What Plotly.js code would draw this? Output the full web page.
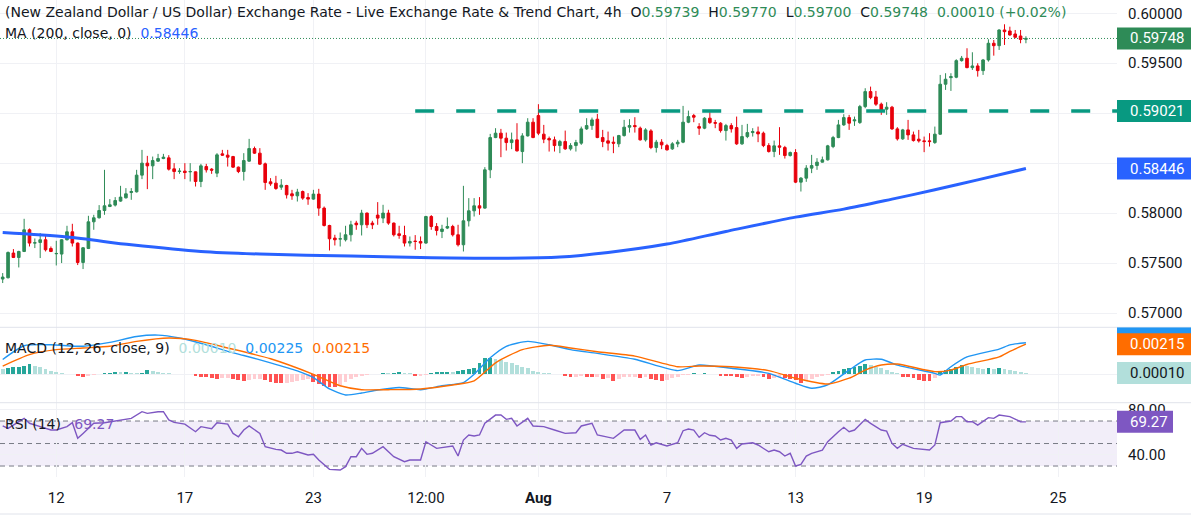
<!DOCTYPE html>
<html>
<head>
<meta charset="utf-8">
<script src="https://cdn.plot.ly/plotly-3.0.1.min.js"></script>
<style>
html,body{margin:0;padding:0;background:#fff;}
#chart{width:1191px;height:520px;}
</style>
</head>
<body>
<div id="chart"></div>
<script>
// ---------------- DATA ----------------
const title = "(New Zealand Dollar / US Dollar) Exchange Rate - Live Exchange Rate & Trend Chart";
const interval = "4h";

const open = [0.57340,0.57353,0.57600,0.57556,0.57616,0.57833,0.57700,0.57706,0.57733,0.57646,0.57593,0.57590,0.57733,0.57813,0.57700,0.57506,0.57646,0.57913,0.57953,0.58026,0.58066,0.58080,0.58120,0.58153,0.58206,0.58213,0.58380,0.58500,0.58473,0.58520,0.58546,0.58553,0.58443,0.58416,0.58420,0.58413,0.58413,0.58316,0.58466,0.58440,0.58400,0.58593,0.58580,0.58566,0.58460,0.58416,0.58520,0.58646,0.58600,0.58493,0.58313,0.58300,0.58260,0.58276,0.58193,0.58173,0.58216,0.58156,0.58140,0.58190,0.58050,0.57876,0.57750,0.57740,0.57733,0.57783,0.57900,0.57883,0.58000,0.57900,0.57980,0.57950,0.58000,0.57900,0.57793,0.57776,0.57700,0.57720,0.57716,0.57700,0.57966,0.57866,0.57816,0.57850,0.57866,0.57783,0.57683,0.57923,0.58023,0.58073,0.58050,0.58433,0.58756,0.58800,0.58750,0.58706,0.58733,0.58616,0.58773,0.58910,0.58976,0.58790,0.58746,0.58733,0.58676,0.58716,0.58643,0.58676,0.58700,0.58843,0.58876,0.58940,0.58756,0.58723,0.58710,0.58693,0.58776,0.58860,0.58876,0.58850,0.58733,0.58823,0.58656,0.58710,0.58676,0.58643,0.58693,0.58710,0.58910,0.58976,0.58866,0.58850,0.58950,0.58906,0.58900,0.58826,0.58876,0.58856,0.58693,0.58766,0.58806,0.58813,0.58800,0.58676,0.58616,0.58673,0.58656,0.58576,0.58606,0.58310,0.58350,0.58450,0.58476,0.58510,0.58533,0.58666,0.58756,0.58883,0.58956,0.58923,0.58906,0.59066,0.59216,0.59163,0.59090,0.59040,0.59060,0.58843,0.58743,0.58833,0.58783,0.58740,0.58723,0.58723,0.58706,0.58790,0.59290,0.59356,0.59360,0.59526,0.59550,0.59456,0.59473,0.59426,0.59533,0.59700,0.59676,0.59833,0.59823,0.59793,0.59773,0.59739];
const high = [0.57400,0.57616,0.57640,0.57623,0.57943,0.57846,0.57746,0.57800,0.57773,0.57666,0.57723,0.57740,0.57873,0.57893,0.57706,0.57660,0.57973,0.57983,0.58080,0.58433,0.58140,0.58160,0.58273,0.58250,0.58250,0.58433,0.58633,0.58573,0.58566,0.58593,0.58593,0.58580,0.58500,0.58450,0.58500,0.58500,0.58416,0.58493,0.58493,0.58450,0.58600,0.58633,0.58633,0.58573,0.58466,0.58600,0.58743,0.58666,0.58650,0.58506,0.58350,0.58373,0.58340,0.58283,0.58233,0.58243,0.58226,0.58200,0.58233,0.58243,0.58066,0.57883,0.57783,0.57806,0.57873,0.57923,0.57923,0.58033,0.58006,0.57923,0.58110,0.58083,0.58033,0.57906,0.57873,0.57873,0.57766,0.57780,0.57766,0.57973,0.57980,0.57900,0.57883,0.57956,0.57883,0.57883,0.58273,0.58150,0.58150,0.58160,0.58460,0.58793,0.58850,0.58843,0.58806,0.58806,0.58900,0.58800,0.58950,0.58950,0.59090,0.58883,0.58766,0.58766,0.58733,0.58826,0.58700,0.58733,0.58866,0.58950,0.58956,0.58993,0.58833,0.58816,0.58766,0.58783,0.58933,0.58940,0.58960,0.58866,0.58850,0.58840,0.58733,0.58740,0.58693,0.58710,0.58733,0.59073,0.59026,0.58993,0.58900,0.58960,0.59010,0.58933,0.58910,0.58893,0.58900,0.58966,0.58883,0.58893,0.58850,0.58866,0.58816,0.58700,0.58726,0.58860,0.58673,0.58616,0.58640,0.58360,0.58480,0.58583,0.58550,0.58566,0.58683,0.58773,0.58933,0.58990,0.58983,0.58966,0.59083,0.59250,0.59266,0.59223,0.59106,0.59110,0.59073,0.58860,0.58843,0.58933,0.58816,0.58833,0.58766,0.58800,0.58866,0.59383,0.59400,0.59400,0.59540,0.59573,0.59650,0.59610,0.59500,0.59543,0.59740,0.59733,0.59840,0.59890,0.59866,0.59833,0.59833,0.59770];
const low = [0.57300,0.57346,0.57550,0.57456,0.57610,0.57666,0.57650,0.57550,0.57616,0.57610,0.57476,0.57500,0.57726,0.57666,0.57480,0.57440,0.57640,0.57833,0.57946,0.57983,0.58060,0.58066,0.58113,0.58146,0.58133,0.58206,0.58340,0.58240,0.58340,0.58513,0.58540,0.58426,0.58340,0.58393,0.58340,0.58316,0.58266,0.58260,0.58406,0.58393,0.58360,0.58573,0.58466,0.58453,0.58400,0.58326,0.58513,0.58593,0.58483,0.58233,0.58273,0.58233,0.58233,0.58146,0.58133,0.58116,0.58133,0.58083,0.58133,0.57973,0.57866,0.57626,0.57676,0.57666,0.57716,0.57716,0.57833,0.57776,0.57850,0.57840,0.57883,0.57900,0.57883,0.57766,0.57743,0.57666,0.57666,0.57633,0.57640,0.57693,0.57833,0.57776,0.57750,0.57840,0.57766,0.57666,0.57616,0.57866,0.57966,0.57983,0.58043,0.58350,0.58750,0.58560,0.58626,0.58640,0.58616,0.58500,0.58766,0.58750,0.58780,0.58700,0.58616,0.58616,0.58600,0.58633,0.58626,0.58616,0.58683,0.58833,0.58833,0.58750,0.58660,0.58626,0.58600,0.58660,0.58766,0.58806,0.58806,0.58726,0.58716,0.58640,0.58606,0.58640,0.58626,0.58633,0.58660,0.58700,0.58900,0.58910,0.58783,0.58840,0.58893,0.58850,0.58806,0.58726,0.58806,0.58683,0.58683,0.58750,0.58766,0.58710,0.58660,0.58606,0.58560,0.58583,0.58546,0.58566,0.58300,0.58216,0.58313,0.58400,0.58433,0.58506,0.58526,0.58650,0.58750,0.58873,0.58833,0.58873,0.58893,0.59050,0.59140,0.59073,0.58983,0.58983,0.58833,0.58726,0.58733,0.58733,0.58716,0.58706,0.58610,0.58666,0.58693,0.58783,0.59233,0.59223,0.59350,0.59516,0.59450,0.59433,0.59366,0.59383,0.59516,0.59576,0.59633,0.59683,0.59776,0.59750,0.59700,0.59700];
const close = [0.57360,0.57606,0.57556,0.57616,0.57833,0.57700,0.57703,0.57733,0.57633,0.57616,0.57596,0.57733,0.57813,0.57700,0.57506,0.57653,0.57913,0.57953,0.58026,0.58073,0.58083,0.58126,0.58160,0.58193,0.58216,0.58380,0.58500,0.58473,0.58526,0.58546,0.58560,0.58440,0.58416,0.58420,0.58406,0.58416,0.58316,0.58473,0.58433,0.58430,0.58583,0.58580,0.58560,0.58460,0.58416,0.58526,0.58646,0.58600,0.58490,0.58306,0.58293,0.58246,0.58280,0.58183,0.58173,0.58210,0.58150,0.58140,0.58190,0.58050,0.57876,0.57743,0.57733,0.57743,0.57783,0.57883,0.57883,0.58000,0.57883,0.57883,0.57950,0.58000,0.57900,0.57783,0.57776,0.57700,0.57716,0.57716,0.57700,0.57966,0.57866,0.57826,0.57840,0.57866,0.57783,0.57683,0.57923,0.58023,0.58073,0.58050,0.58433,0.58756,0.58800,0.58750,0.58706,0.58733,0.58623,0.58773,0.58910,0.58756,0.58800,0.58740,0.58733,0.58676,0.58716,0.58643,0.58676,0.58706,0.58843,0.58876,0.58933,0.58756,0.58716,0.58700,0.58700,0.58776,0.58860,0.58876,0.58866,0.58733,0.58833,0.58656,0.58710,0.58683,0.58633,0.58693,0.58710,0.58910,0.58966,0.58960,0.58850,0.58950,0.58906,0.58900,0.58826,0.58876,0.58843,0.58693,0.58766,0.58806,0.58816,0.58793,0.58676,0.58616,0.58673,0.58660,0.58576,0.58606,0.58310,0.58350,0.58450,0.58476,0.58510,0.58533,0.58673,0.58756,0.58883,0.58956,0.58900,0.58933,0.59066,0.59216,0.59156,0.59090,0.59033,0.59060,0.58843,0.58743,0.58833,0.58783,0.58726,0.58723,0.58716,0.58716,0.58790,0.59290,0.59340,0.59366,0.59526,0.59550,0.59456,0.59473,0.59426,0.59533,0.59700,0.59676,0.59833,0.59816,0.59783,0.59760,0.59738,0.59748];

// 200-period moving average, read at sample bars
const maBars = [0,12,24,37,48,65,78,91,104,113,124,135,148,157,166,174,182,191];
const maVals = [0.57805,0.57760,0.57683,0.57616,0.57590,0.57570,0.57555,0.57548,0.57560,0.57606,0.57690,0.57816,0.57960,0.58040,0.58140,0.58233,0.58333,0.58446];

// MACD line and signal line, read at sample bars
const macdBars = [0,4,9,15,20,25,29,33,38,42,45,50,55,58,61,64,67,70,74,78,82,86,88,91,94,98,102,106,111,118,126,130,136,143,148,151,154,158,161,164,167,174,175,177,180,186,188,191];
const macdVals = [0.00106,0.00204,0.00211,0.00200,0.00228,0.00270,0.00280,0.00259,0.00211,0.00164,0.00134,0.00082,0.00024,-0.00024,-0.00105,-0.00148,-0.00134,-0.00112,-0.00094,-0.00110,-0.00082,-0.00059,0.00000,0.00118,0.00200,0.00235,0.00211,0.00176,0.00149,0.00107,0.00026,0.00066,0.00043,0.00007,-0.00064,-0.00100,-0.00076,0.00030,0.00102,0.00107,0.00066,0.00007,-0.00005,0.00054,0.00124,0.00180,0.00210,0.00225];
const signalBars = [0,5,10,15,20,25,31,36,42,50,58,63,67,72,78,84,88,92,97,102,106,111,118,126,130,136,143,148,154,158,161,164,167,174,177,180,186,188,191];
const signalVals = [0.00059,0.00141,0.00176,0.00188,0.00200,0.00235,0.00259,0.00242,0.00188,0.00111,0.00000,-0.00082,-0.00110,-0.00110,-0.00105,-0.00077,-0.00047,0.00082,0.00176,0.00207,0.00188,0.00161,0.00130,0.00054,0.00059,0.00054,0.00026,-0.00028,-0.00069,-0.00028,0.00030,0.00066,0.00073,0.00019,0.00030,0.00070,0.00124,0.00164,0.00215];
// MACD histogram, one value per bar
const histVals = [0.00036,0.00043,0.00050,0.00055,0.00059,0.00071,0.00059,0.00050,0.00036,0.00026,0.00014,0.00007,0.00002,0.00002,-0.00010,-0.00021,-0.00012,-0.00005,0.00001,0.00007,0.00012,0.00014,0.00014,0.00017,0.00012,0.00007,0.00012,0.00031,0.00026,0.00019,0.00012,0.00007,0.00005,0.00002,0.00001,0.00001,-0.00010,-0.00017,-0.00021,-0.00028,-0.00033,-0.00028,-0.00026,-0.00036,-0.00040,-0.00045,-0.00040,-0.00036,-0.00031,-0.00040,-0.00052,-0.00059,-0.00064,-0.00059,-0.00055,-0.00047,-0.00040,-0.00036,-0.00052,-0.00069,-0.00083,-0.00088,-0.00090,-0.00076,-0.00052,-0.00036,-0.00021,-0.00012,-0.00005,0.00002,0.00005,0.00007,0.00007,0.00012,0.00014,0.00012,0.00007,-0.00010,-0.00010,-0.00005,0.00012,0.00014,0.00017,0.00019,0.00014,0.00026,0.00031,0.00036,0.00043,0.00078,0.00114,0.00119,0.00107,0.00102,0.00090,0.00078,0.00066,0.00055,0.00043,0.00026,0.00019,0.00012,0.00007,0.00002,0.00002,-0.00012,-0.00017,-0.00017,-0.00012,-0.00017,-0.00021,-0.00017,-0.00036,-0.00028,-0.00045,-0.00036,-0.00021,-0.00017,-0.00017,-0.00028,-0.00021,-0.00036,-0.00040,-0.00045,-0.00040,-0.00028,-0.00017,-0.00005,-0.00002,0.00007,0.00002,0.00007,0.00002,0.00001,-0.00010,-0.00012,-0.00013,-0.00021,-0.00028,-0.00017,-0.00012,-0.00010,-0.00021,-0.00036,-0.00028,-0.00021,-0.00028,-0.00036,-0.00040,-0.00059,-0.00045,-0.00036,-0.00021,-0.00012,-0.00005,0.00014,0.00024,0.00038,0.00043,0.00050,0.00059,0.00071,0.00066,0.00055,0.00043,0.00031,0.00019,0.00012,-0.00017,-0.00021,-0.00028,-0.00040,-0.00045,-0.00047,-0.00028,0.00014,0.00031,0.00038,0.00055,0.00066,0.00059,0.00050,0.00043,0.00036,0.00047,0.00038,0.00047,0.00038,0.00031,0.00024,0.00014,0.00010];

// RSI(14), read at sample bars
const rsiBars = [0,1,4,5,7,9,10,12,13,14,15,17,19,21,23,24,26,27,29,30,31,32,34,36,37,39,40,42,43,44,45,46,48,49,51,52,53,54,55,57,58,59,61,63,64,65,66,67,68,69,71,73,75,76,78,79,81,83,84,85,86,87,88,89,90,92,93,94,95,96,98,99,101,103,105,107,108,110,111,114,116,118,119,120,121,122,124,126,127,128,129,130,131,132,133,134,135,136,137,138,140,141,143,144,145,146,147,148,149,150,151,153,154,156,157,158,159,161,162,164,165,166,167,168,170,173,174,175,177,178,179,180,181,182,184,185,186,188,189,190,191];
const rsiVals = [65.6,63.5,72.4,68,65,62,62,65,68.5,54.6,59,68,68.5,70,71.5,72.4,78.3,76.8,78.3,78.3,71,68.8,67.3,60.5,65,63.2,68.5,67.3,59,56,62,65.6,59,47.2,44.8,44.2,41.3,41.3,42.7,39.8,40.4,35.3,27,26.4,29.4,38.3,38.3,45.7,40.4,41.3,47.2,38.3,33.9,35.3,35.3,51.6,45.7,47.2,47.8,38.9,53.1,57.6,56.7,57.6,68,75.3,75.3,71.5,72.4,65.6,72.4,65.6,65,62,59,59.6,65.6,68,57.6,54.6,62,62,53.7,57.6,48.7,50.7,47.8,50.7,61.4,62.9,62,55.5,59.6,57.3,56.7,53.1,54.6,53.1,45.7,49.6,50.7,48.7,42.7,44.2,42.7,38.9,41.3,30,31.5,38.9,41.3,44.2,51.6,60.5,64.4,60.5,62,71.5,67.9,62,61,50.1,45.7,49.3,45.7,44.2,48.7,68.5,70,73.9,73.9,69.4,69.4,66.4,73,72.4,75.3,73.9,71.5,69.4,69.27];

const resistanceLevel = 0.59021;
const resistanceStartBar = 77;
const rsiLevels = [70, 50, 30];

const xTickBars = [10,34,58,79,100,124,148,172,197];
const xTickText = ["12","17","23","12:00","<b>Aug</b>","7","13","19","25"];
const priceTicks = [0.570,0.575,0.580,0.585,0.590,0.595,0.600];
const priceTickShown = [true,true,true,false,false,true,true];

// ---------------- STYLE / LAYOUT ----------------
const W = 1191, H = 520;
const plotRightPx = 1117;
const mainTop = 0, mainBot = 327.3, macdBot = 402.7, rsiBot = 476.7;
const xRange = [-0.504, 208.0];
const mainRange = [0.56857, 0.60133];
const macdRange = [-0.00203, 0.003357];
const rsiRange = [20.5, 86.3];

const UP = "#2e8b57", DOWN = "#e8000b";
const TXT = "#131722";
const GRID = "#f0f1f5";
const FONT = "Roboto, 'Noto Sans', sans-serif";
const LEGEND_FONT = "'DejaVu Sans', 'Noto Sans', sans-serif";

const bars = open.map((_, i) => i);
const last = close.length - 1;
const fmt5 = v => v.toFixed(5);

const histColors = histVals.map((h, i) => {
  const p = i > 0 ? histVals[i - 1] : h;
  if (h >= 0) return h > p ? "#26a69a" : "#b2dfdb";
  return h < p ? "#ff5252" : "#ffcdd2";
});

const traces = [
  {
    type: "candlestick", x: bars, open: open, high: high, low: low, close: close,
    xaxis: "x", yaxis: "y",
    increasing: {line: {color: UP, width: 1}, fillcolor: UP},
    decreasing: {line: {color: DOWN, width: 1}, fillcolor: DOWN},
    whiskerwidth: 0, hoverinfo: "skip", showlegend: false
  },
  {
    type: "scatter", mode: "lines", x: maBars, y: maVals, xaxis: "x", yaxis: "y",
    line: {color: "#2962ff", width: 3, shape: "spline", smoothing: 0.8}, hoverinfo: "skip", showlegend: false
  },
  {
    type: "scatter", mode: "lines", x: [resistanceStartBar, xRange[1]], y: [resistanceLevel, resistanceLevel],
    xaxis: "x", yaxis: "y", line: {color: "#089981", width: 3.5, dash: "19px,22px"}, hoverinfo: "skip", showlegend: false
  },
  {
    type: "bar", x: bars, y: histVals, xaxis: "x", yaxis: "y2", width: 0.72,
    marker: {color: histColors, line: {width: 0}}, hoverinfo: "skip", showlegend: false
  },
  {
    type: "scatter", mode: "lines", x: macdBars, y: macdVals, xaxis: "x", yaxis: "y2",
    line: {color: "#2196f3", width: 1.4, shape: "spline", smoothing: 0.6}, hoverinfo: "skip", showlegend: false
  },
  {
    type: "scatter", mode: "lines", x: signalBars, y: signalVals, xaxis: "x", yaxis: "y2",
    line: {color: "#ff6d00", width: 1.4, shape: "spline", smoothing: 0.6}, hoverinfo: "skip", showlegend: false
  },
  {
    type: "scatter", mode: "lines", x: rsiBars, y: rsiVals, xaxis: "x", yaxis: "y3",
    line: {color: "#7e57c2", width: 1.4}, hoverinfo: "skip", showlegend: false
  }
];

const xd = plotRightPx / W;
const dom = (topPx, botPx) => [(H - botPx) / H, (H - topPx) / H];

const shapes = [];
const annotations = [];

// RSI band and level lines
shapes.push({type: "rect", xref: "paper", x0: 0, x1: xd, yref: "y3", y0: rsiLevels[2], y1: rsiLevels[0],
  fillcolor: "rgba(126,87,194,0.1)", line: {width: 0}, layer: "below"});
rsiLevels.forEach(l => shapes.push({type: "line", xref: "paper", x0: 0, x1: xd, yref: "y3", y0: l, y1: l,
  line: {color: "#787b86", width: 1, dash: "5px,4px"}, layer: "below"}));

// last price dotted line
shapes.push({type: "line", xref: "paper", x0: 0, x1: xd, yref: "y", y0: close[last], y1: close[last],
  line: {color: UP, width: 1, dash: "1px,2px"}, layer: "below"});

// pane separators
[mainBot, macdBot, 514].forEach(py => shapes.push({type: "line", xref: "paper", x0: 0, x1: 1,
  yref: "paper", y0: (H - py) / H, y1: (H - py) / H, line: {color: "#e0e3eb", width: 1}, layer: "above"}));

function valueLabel(val, axis, range, topPx, botPx, bg, fg, widthPx, withText, forceTopPx) {
  const ppu = (botPx - topPx) / (range[1] - range[0]);
  const half = 11 / ppu;
  let y0 = val - half, y1 = val + half;
  if (forceTopPx !== undefined) { y1 = range[1] - (forceTopPx - topPx) / ppu; y0 = y1 - 2 * half; }
  shapes.push({type: "rect", xref: "paper", x0: plotRightPx / W, x1: (plotRightPx + widthPx) / W,
    yref: axis, y0: y0, y1: y1, fillcolor: bg, line: {width: 0}, layer: "above"});
  if (withText) annotations.push({xref: "paper", x: 1128 / W, xanchor: "left", yref: axis, y: val, yanchor: "middle",
    text: withText, showarrow: false, font: {family: FONT, size: 15, color: fg}});
}

valueLabel(close[last], "y", mainRange, mainTop, mainBot, UP, "#ffffff", 74, fmt5(close[last]));
valueLabel(resistanceLevel, "y", mainRange, mainTop, mainBot, "#089981", "#ffffff", 74, fmt5(resistanceLevel));
valueLabel(maVals[maVals.length - 1], "y", mainRange, mainTop, mainBot, "#2962ff", "#ffffff", 74, fmt5(maVals[maVals.length - 1]));
valueLabel(macdVals[macdVals.length - 1], "y2", macdRange, mainBot, macdBot, "#2196f3", "#ffffff", 74, null, mainBot);
valueLabel(signalVals[signalVals.length - 1], "y2", macdRange, mainBot, macdBot, "#ff6d00", "#ffffff", 74, fmt5(signalVals[signalVals.length - 1]));
valueLabel(histVals[last], "y2", macdRange, mainBot, macdBot, "#b2dfdb", "#131722", 74, fmt5(histVals[last]));
valueLabel(rsiVals[rsiVals.length - 1], "y3", rsiRange, macdBot, rsiBot, "#7e57c2", "#ffffff", 56, rsiVals[rsiVals.length - 1].toFixed(2));

// legends
const g = s => `<span style="color:${UP}">${s}</span>`;
const chg = close[last] - close[last - 1];
const pct = chg / close[last - 1] * 100;
const sp = "\u00a0\u00a0";
const hdr = `${title}, ${interval}${sp}O${g(fmt5(open[last]))}${sp}H${g(fmt5(high[last]))}${sp}L${g(fmt5(low[last]))}${sp}C${g(fmt5(close[last]))}${sp}${g(fmt5(chg) + " (" + (pct >= 0 ? "+" : "") + pct.toFixed(2) + "%)")}`;
function legend(text, yPx) {
  annotations.push({xref: "paper", x: 3 / W, xanchor: "left", yref: "paper", y: (H - yPx) / H, yanchor: "middle",
    text: text, showarrow: false, font: {family: LEGEND_FONT, size: 14, color: TXT}});
}
legend(hdr, 12);
legend(`MA (200, close, 0)${sp}<span style="color:#2962ff">${fmt5(maVals[maVals.length - 1])}</span>`, 33);
legend(`MACD (12, 26, close, 9)${sp}<span style="color:#b2dfdb">${fmt5(histVals[last])}</span>${sp}<span style="color:#2196f3">${fmt5(macdVals[macdVals.length - 1])}</span>${sp}<span style="color:#ff6d00">${fmt5(signalVals[signalVals.length - 1])}</span>`, 348);
legend(`RSI (14)${sp}\u00a0<span style="color:#7e57c2">${rsiVals[rsiVals.length - 1].toFixed(2)}</span>`, 424);

const yBase = {side: "right", anchor: "x", showline: false, zeroline: false, ticks: "", fixedrange: true,
  gridcolor: GRID, gridwidth: 1, tickfont: {family: FONT, size: 15, color: TXT}, ticklabelstandoff: 10};

const layout = {
  width: W, height: H, margin: {l: 0, r: 0, t: 0, b: 0}, paper_bgcolor: "#fff", plot_bgcolor: "#fff",
  showlegend: false, bargap: 0, font: {family: FONT},
  xaxis: {domain: [0, xd], range: xRange, anchor: "y3", type: "linear", showline: false, zeroline: false,
    tickmode: "array", tickvals: xTickBars, ticktext: xTickText, ticks: "", showgrid: true, gridcolor: GRID,
    tickfont: {family: FONT, size: 15, color: TXT}, ticklabelstandoff: 10, rangeslider: {visible: false}, fixedrange: true},
  yaxis: Object.assign({}, yBase, {domain: dom(mainTop, mainBot), range: mainRange, tickmode: "array",
    tickvals: priceTicks, ticktext: priceTicks.map((v, i) => priceTickShown[i] ? v.toFixed(5) : "")}),
  yaxis2: Object.assign({}, yBase, {domain: dom(mainBot, macdBot), range: macdRange, tickmode: "array",
    tickvals: [0], ticktext: [""]}),
  yaxis3: Object.assign({}, yBase, {domain: dom(macdBot, rsiBot), range: rsiRange, tickmode: "array",
    tickvals: [40, 80], ticktext: ["40.00", "80.00"]}),
  shapes: shapes,
  annotations: annotations
};

Plotly.newPlot("chart", traces, layout, {staticPlot: true, displayModeBar: false});
</script>
</body>
</html>
